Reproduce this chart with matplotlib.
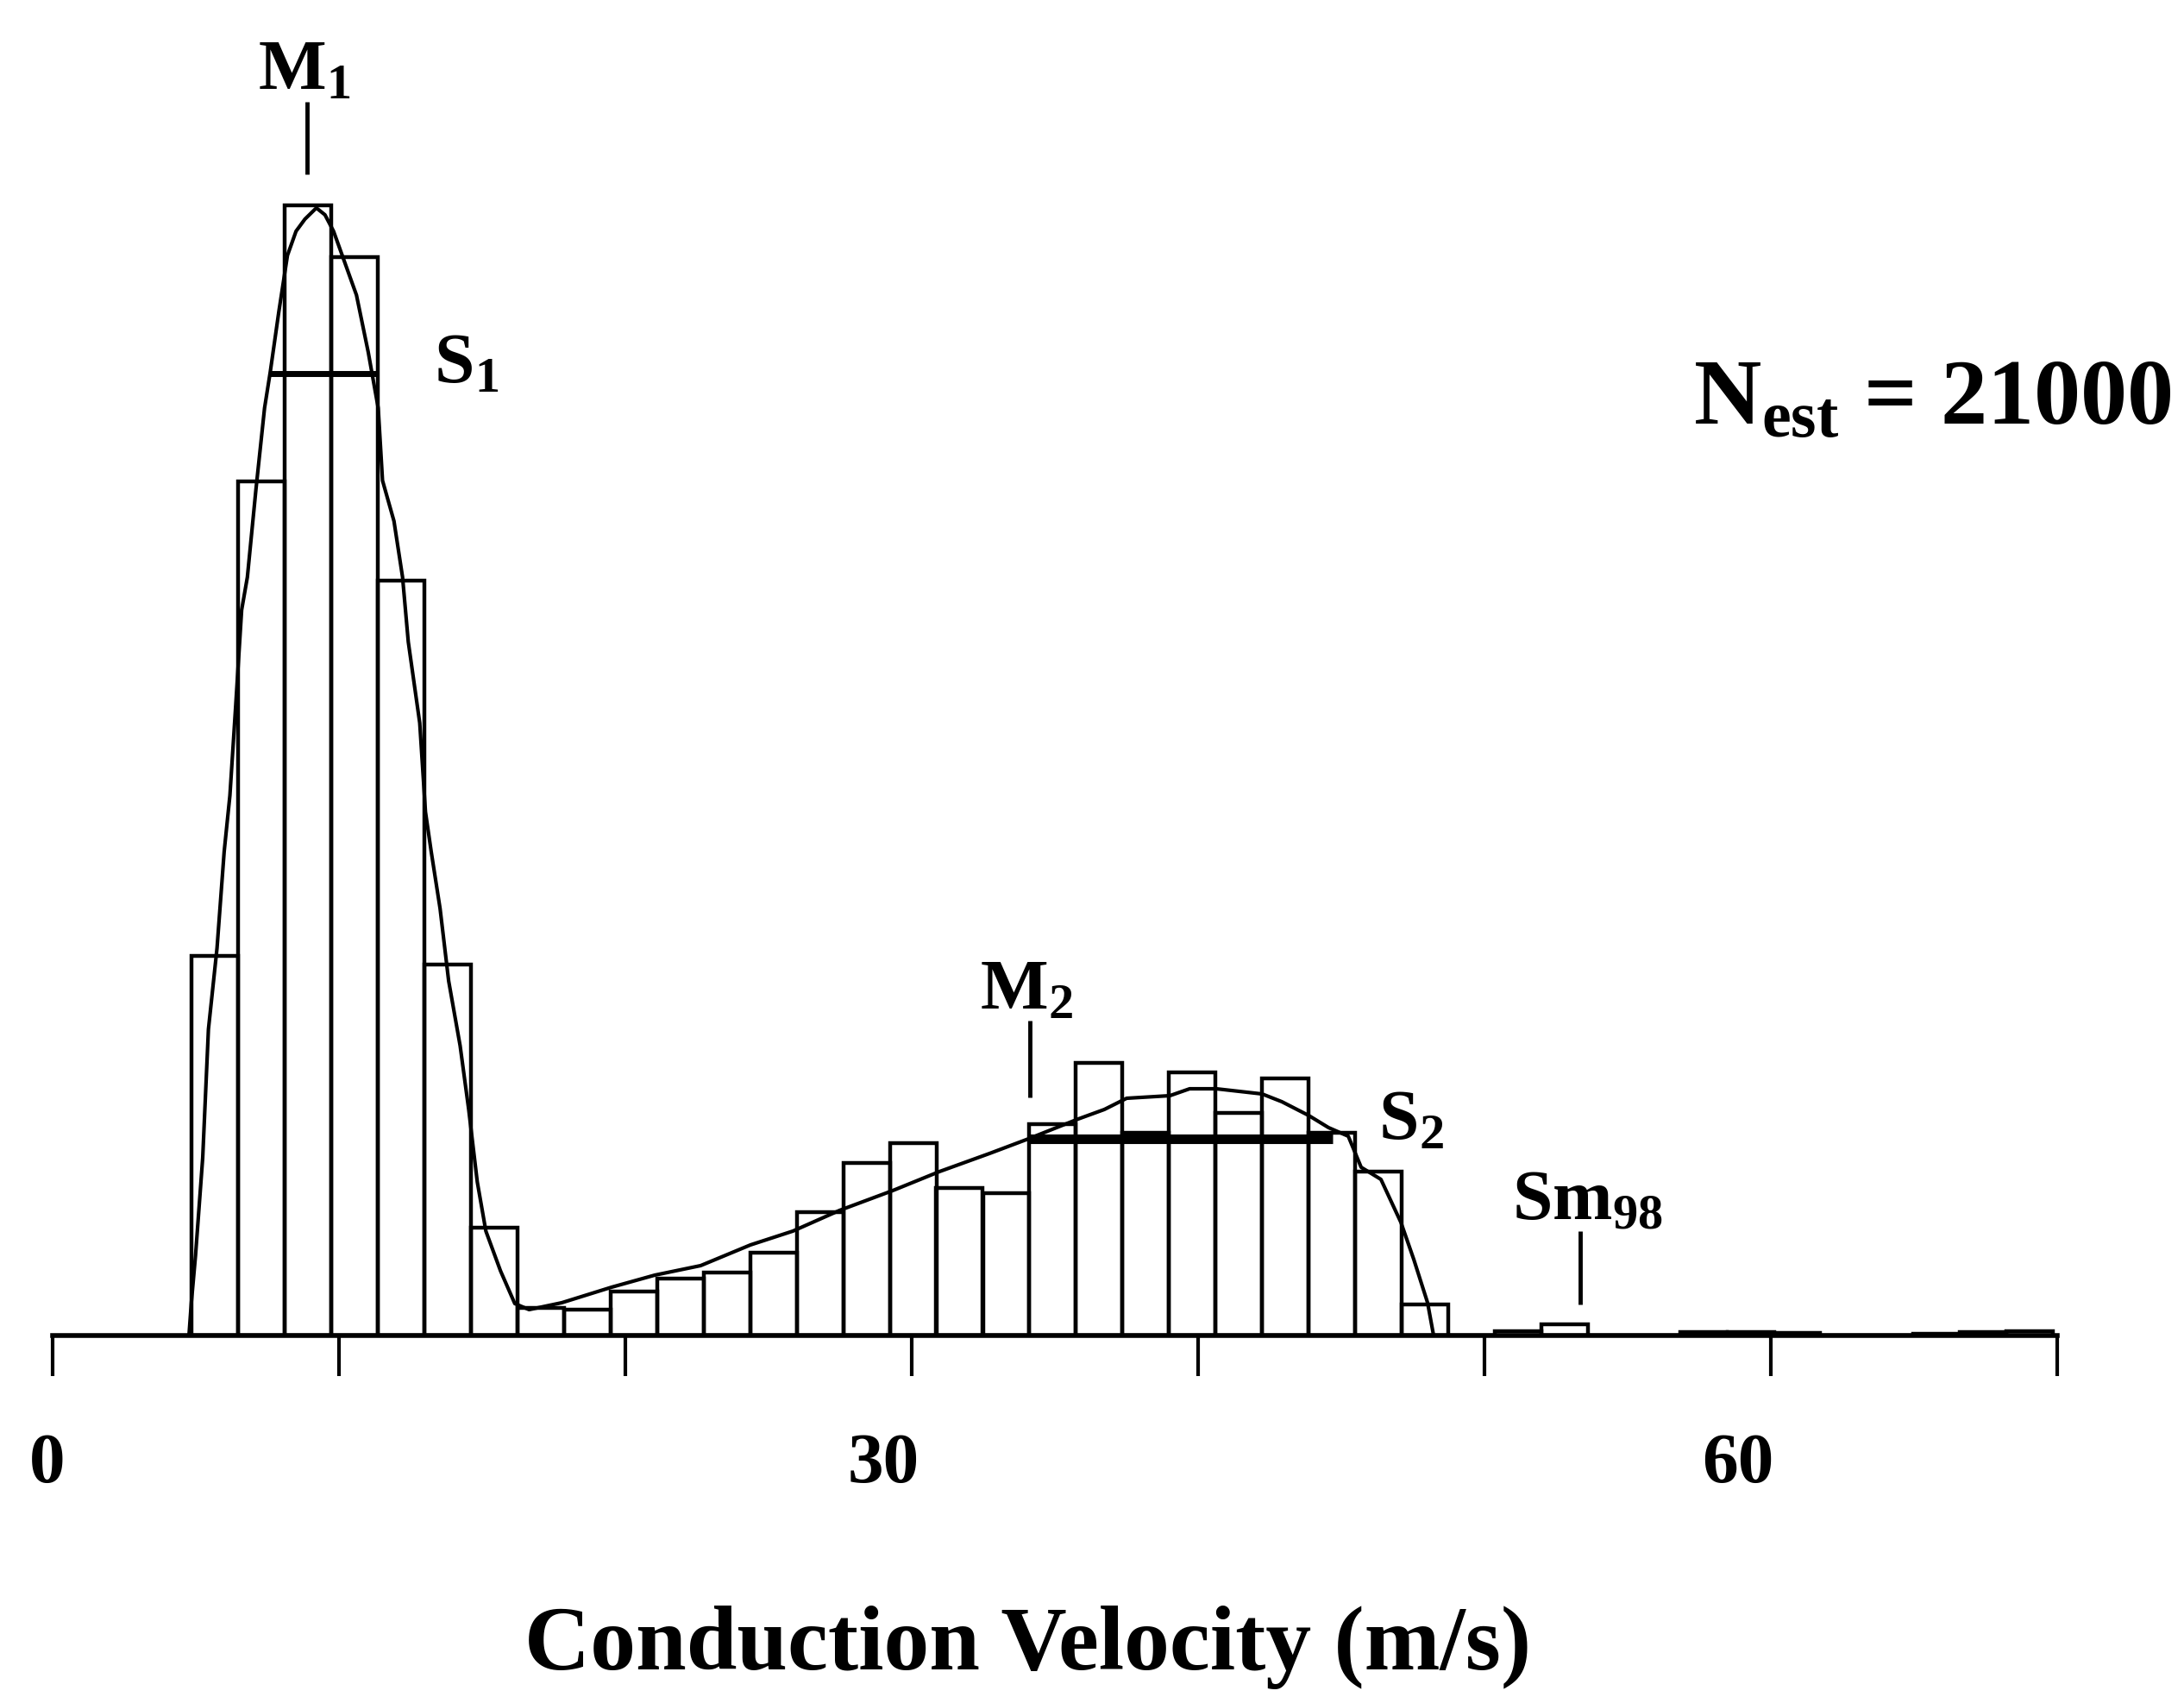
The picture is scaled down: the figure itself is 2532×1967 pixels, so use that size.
"""
Conduction velocity histogram with fitted bimodal curve.
Redrawn from a scanned figure (fibre count estimate N_est = 21000).
"""

import matplotlib
matplotlib.use("Agg")
import matplotlib.pyplot as plt
from matplotlib.transforms import ScaledTranslation


# --- DATA ---

# lower edge of each velocity bin (m/s), bins are ~1.625 m/s wide
bin_lo = [4.85, 6.48, 8.10, 9.73, 11.35, 12.98, 14.60, 16.23, 17.85, 19.48,
          21.10, 22.73, 24.35, 25.98, 27.60, 29.23, 30.85, 32.48, 34.10, 35.73,
          37.35, 38.98, 40.60, 42.23, 43.85, 45.48, 47.10, 48.73, 50.35, 51.98,
          53.60, 55.23, 56.85, 58.48, 60.10, 61.73, 63.35, 64.98, 66.60, 68.23]
bin_width = 1.625

# bar heights (arbitrary units)
bin_counts = [440, 990, 1310, 1250, 875, 430, 125, 32, 30, 51,
              66, 73, 96, 143, 200, 223, 171, 165, 245, 316,
              235, 305, 258, 298, 235, 190, 36, 0, 5, 13,
              0, 0, 4, 4, 3, 0, 0, 2, 4, 5]

# fitted distribution curve
fit_v = [4.75, 4.83, 4.98, 5.23, 5.43, 5.73, 5.98, 6.18, 6.38, 6.59, 6.79,
         7.09, 7.39, 7.59, 7.89, 8.19, 8.49, 8.80, 9.20, 9.50, 9.80, 10.20,
         10.60, 11.01, 11.36, 11.51, 11.91, 12.21, 12.41, 12.81, 13.01, 13.21,
         13.52, 13.82, 14.22, 14.52, 14.82, 15.12, 15.63, 16.13, 16.63, 17.77,
         19.51, 21.02, 22.62, 24.36, 25.84, 27.47, 29.33, 30.96, 32.71, 34.07,
         35.81, 36.72, 37.50, 39.01, 39.70, 40.63, 42.23, 42.92, 43.86, 44.55,
         45.24, 45.69, 46.38, 47.08, 47.53, 48.01, 48.22]
fit_n = [0, 37, 93, 206, 355, 449, 561, 626, 729, 841, 879,
         981, 1075, 1117, 1187, 1252, 1280, 1294, 1307, 1299, 1280, 1243,
         1206, 1140, 1075, 991, 944, 879, 804, 710, 607, 561,
         495, 411, 336, 262, 178, 121, 75, 37, 30, 38,
         56, 70, 81, 105, 121, 145, 168, 190, 211, 228,
         251, 262, 275, 278, 286, 286, 280, 271, 255, 241,
         231, 195, 181, 131, 88, 38, 0]

# spread bars (S1, S2): start, end, level
spread_lo = [7.55, 34.10]
spread_hi = [11.30, 44.70]
spread_level = [1115, 228]

# markers (M1, M2, Sm98): position, bottom, top
marker_v = [8.88, 34.12, 53.35]
marker_lo = [1346, 276, 36]
marker_hi = [1430, 365, 121]

tick_values = [0, 10, 20, 30, 40, 50, 60, 70]
tick_labels = ['0', '', '', '30', '', '', '60', '']


def main():
    plt.rcParams['font.family'] = 'Liberation Serif'
    plt.rcParams['font.weight'] = 'bold'
    plt.rcParams['mathtext.fontset'] = 'custom'
    plt.rcParams['mathtext.rm'] = 'Liberation Serif:bold'
    plt.rcParams['mathtext.it'] = 'Liberation Serif:bold'
    plt.rcParams['mathtext.bf'] = 'Liberation Serif:bold'
    plt.rcParams['mathtext.default'] = 'rm'

    W, H = 2532, 1967
    fig = plt.figure(figsize=(W / 100, H / 100), dpi=100)
    ax = fig.add_axes([61.4 / W, 419 / H, 2323.6 / W, 1548 / H])
    ax.set_xlim(0, 70)
    ax.set_ylim(0, 1548)
    ax.patch.set_alpha(0)

    # histogram bars (open)
    ax.bar(bin_lo, bin_counts, width=bin_width, align='edge', fill=False,
           edgecolor='black', linewidth=3.2, zorder=2)

    # fitted curve
    ax.plot(fit_v, fit_n, color='black', linewidth=3, zorder=3)

    # spread bars
    for lo, hi, lev, lw in zip(spread_lo, spread_hi, spread_level, [5, 8]):
        ax.plot([lo, hi], [lev, lev], color='black', linewidth=lw,
                solid_capstyle='butt', zorder=4)

    # marker ticks
    ax.vlines(marker_v, marker_lo, marker_hi, color='black', linewidth=3.5)

    # labels
    fs = 60
    ax.text(8.79, 1445, r'$M_1$', fontsize=fs, ha='center', va='baseline')
    ax.text(13.3, 1105, r'$S_1$', fontsize=fs, ha='left', va='baseline')
    ax.text(34.0, 378, r'$M_2$', fontsize=fs, ha='center', va='baseline')
    ax.text(46.3, 227, r'$S_2$', fontsize=fs, ha='left', va='baseline')
    ax.text(50.97, 135, r'$Sm_{98}$', fontsize=fs, ha='left', va='baseline')

    fig.text(2518 / W, 1 - 492 / H, r'$N_{est}$ = 21000', fontsize=78,
             ha='right', va='baseline')

    # axis
    for side in ['left', 'top', 'right']:
        ax.spines[side].set_visible(False)
    ax.spines['bottom'].set_linewidth(4)
    ax.spines['bottom'].set_bounds(0, 70)
    ax.set_yticks([])
    ax.set_xticks(tick_values)
    ax.set_xticklabels(tick_labels, fontsize=60)
    ax.tick_params(axis='x', direction='out', length=34, width=3, pad=47)
    # the printed numbers sit a little left of their ticks
    shifts = [-0.07, 0, 0, -0.33, 0, 0, -0.38, 0]
    for lab, dx in zip(ax.get_xticklabels(), shifts):
        lab.set_transform(lab.get_transform()
                          + ScaledTranslation(dx, 0, fig.dpi_scale_trans))

    fig.text(1192 / W, 32 / H, 'Conduction Velocity (m/s)', fontsize=76,
             ha='center', va='baseline')

    fig.savefig('out.png', dpi=100, facecolor='white')


if __name__ == '__main__':
    main()
